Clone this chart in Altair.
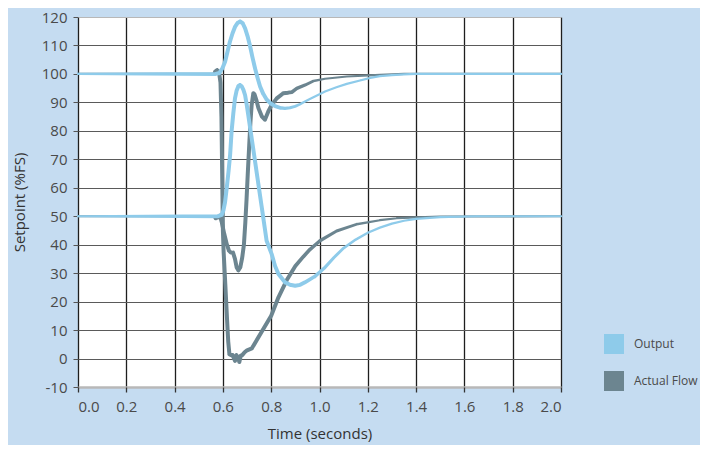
import altair as alt
import pandas as pd

# ---- data ----
# Output trace around the 100 %FS level
out_hi_t = [0.00, 0.57, 0.585, 0.598, 0.609, 0.619, 0.629, 0.640, 0.650, 0.661, 0.671, 0.682, 0.692, 0.702,
            0.712, 0.722, 0.733, 0.744, 0.754, 0.767, 0.781, 0.798, 0.816, 0.836, 0.857, 0.878, 0.899, 0.920,
            0.940, 0.960, 0.981, 1.023, 1.070, 1.113, 1.168, 1.210, 1.250, 1.300, 1.350, 1.400, 2.000]
out_hi_v = [100, 100, 100.3, 102.0, 104.3, 107.8, 111.3, 114.3, 116.5, 117.9, 118.4, 117.8, 116.0, 113.3,
            110.0, 106.0, 102.0, 98.5, 95.6, 93.0, 91.0, 89.6, 88.7, 88.1, 87.9, 88.1, 88.6, 89.4,
            90.3, 91.2, 92.1, 93.8, 95.3, 96.5, 97.7, 98.6, 99.2, 99.6, 99.85, 100, 100]

# Actual Flow trace settling at 100 %FS
flow_hi_t = [0.00, 0.56, 0.570, 0.580, 0.588, 0.595, 0.605, 0.615, 0.625, 0.632, 0.642, 0.650, 0.657, 0.664,
             0.672, 0.680, 0.687, 0.693, 0.698, 0.703, 0.709, 0.714, 0.719, 0.726, 0.731, 0.738, 0.747,
             0.761, 0.774, 0.788, 0.802, 0.823, 0.850, 0.870, 0.885, 0.906, 0.940, 0.975, 1.023, 1.113,
             1.250, 1.350, 2.000]
flow_hi_v = [50, 50, 49.3, 49.6, 50.2, 48.0, 44.0, 40.5, 37.9, 37.3, 37.2, 35.0, 32.0, 31.0,
             32.0, 35.5, 40.0, 48.0, 56.0, 65.0, 75.0, 83.0, 89.0, 93.2, 92.8, 91.0, 88.0,
             85.1, 83.9, 86.8, 89.1, 91.4, 93.2, 93.4, 93.6, 94.9, 96.1, 97.5, 98.3, 99.1,
             99.7, 100, 100]

# Output trace around the 50 %FS level
out_lo_t = [0.00, 0.58, 0.595, 0.602, 0.609, 0.616, 0.623, 0.630, 0.636, 0.643, 0.650, 0.657, 0.664, 0.671,
            0.678, 0.685, 0.692, 0.698, 0.705, 0.715, 0.729, 0.745, 0.760, 0.781, 0.802, 0.816, 0.830,
            0.857, 0.878, 0.899, 0.920, 0.940, 0.980, 1.020, 1.060, 1.100, 1.150, 1.200, 1.250, 1.300,
            1.350, 1.400, 1.500, 1.650, 2.000]
out_lo_v = [50, 50, 50.5, 52.0, 55.0, 60.0, 65.5, 71.7, 79.8, 86.0, 91.4, 94.2, 95.7, 96.1,
            95.6, 94.4, 92.5, 89.5, 85.6, 79.8, 71.7, 62.4, 53.7, 41.4, 36.7, 32.5, 29.7,
            26.8, 25.9, 25.6, 25.9, 26.8, 28.8, 31.8, 35.5, 38.8, 41.8, 44.2, 46.0, 47.4,
            48.4, 49.1, 49.7, 50, 50]

# Actual Flow trace settling at 50 %FS
flow_lo_t = [0.00, 0.56, 0.568, 0.576, 0.584, 0.590, 0.594, 0.597, 0.600, 0.603, 0.610, 0.617, 0.622,
             0.627, 0.633, 0.640, 0.645, 0.650, 0.656, 0.662, 0.668, 0.674, 0.680, 0.690, 0.700, 0.720,
             0.760, 0.800, 0.830, 0.864, 0.900, 0.933, 0.960, 1.002, 1.071, 1.154, 1.250, 1.320, 1.405,
             1.500, 2.000]
flow_lo_v = [100, 100, 100.8, 101.3, 100.6, 97.0, 85.0, 65.0, 45.0, 37.5, 26.0, 14.0, 6.0,
             1.5, 1.2, 1.2, 0.2, -0.8, 1.2, 0.5, -1.2, 1.0, 1.2, 2.2, 2.9, 3.6,
             9.3, 15.0, 21.5, 27.5, 32.5, 35.8, 38.3, 41.4, 44.8, 47.2, 48.6, 49.3, 49.6,
             49.9, 50]

series_names = ["Output", "Actual Flow"]
x_ticks = [0.0, 0.2, 0.4, 0.6, 0.8, 1.0, 1.2, 1.4, 1.6, 1.8, 2.0]
y_ticks = [-10, 0, 10, 20, 30, 40, 50, 60, 70, 80, 90, 100, 110, 120]

# ---- styling ----
BLUE = "#8ecbea"
GRAY = "#6c8590"
BG = "#c5dcf1"
FONT = "Open Sans"
TEXT = "#4a4a4a"

curves = [
    ("out_hi", "Output", out_hi_t, out_hi_v),
    ("flow_hi", "Actual Flow", flow_hi_t, flow_hi_v),
    ("out_lo", "Output", out_lo_t, out_lo_v),
    ("flow_lo", "Actual Flow", flow_lo_t, flow_lo_v),
]
rows = []
for cid, series, ts, vs in curves:
    for t, v in zip(ts, vs):
        rows.append({"t": t, "v": v, "series": series, "curve": cid})
df = pd.DataFrame(rows)

# stroke width: thick during the transient, thinning out as each trace settles
thick_end = {"out_hi": 0.80, "flow_hi": 0.86, "out_lo": 0.90, "flow_lo": 0.88}
ramp = {"out_hi": 0.15, "flow_hi": 0.15, "out_lo": 0.30, "flow_lo": 0.35}
t1 = " : ".join(f"datum.curve == '{k}' ? {v}" for k, v in thick_end.items()) + " : 1"
rr = " : ".join(f"datum.curve == '{k}' ? {v}" for k, v in ramp.items()) + " : 1"
width_expr = (f"datum.t < 0.565 ? 2.2 : (datum.t <= ({t1}) ? 4 : "
              f"max(2.2, 4 - 1.8 * (datum.t - ({t1})) / ({rr})))")

color_scale = alt.Scale(domain=series_names, range=[BLUE, GRAY])

x_enc = alt.X(
    "t:Q",
    scale=alt.Scale(domain=[0, 2], nice=False, zero=False),
    axis=alt.Axis(
        values=x_ticks, format=".1f", title="Time (seconds)",
        grid=True, gridColor="#1e1e1e", gridWidth=1.3,
        domain=False, ticks=True, tickColor="#333333", tickSize=5, tickWidth=1.3,
        labelFont=FONT, labelFontSize=15, labelColor=TEXT, labelPadding=7,
        titleFont=FONT, titleFontSize=15, titleFontWeight="normal", titleColor="#333333",
        titlePadding=12,
    ),
)
y_enc = alt.Y(
    "v:Q",
    scale=alt.Scale(domain=[-10, 120], nice=False, zero=False),
    axis=alt.Axis(
        values=y_ticks, labelExpr="'' + datum.value", title="Setpoint (%FS)",
        grid=True,
        gridColor={"condition": {"test": "datum.value == -10 || datum.value == 120", "value": "#b8b8b8"},
                   "value": "#5a5a5a"},
        gridWidth={"condition": {"test": "datum.value == -10", "value": 2.5}, "value": 1},
        domain=False, ticks=True, tickColor="#555555", tickSize=5,
        labelFont=FONT, labelFontSize=15, labelColor=TEXT, labelPadding=6,
        titleFont=FONT, titleFontSize=15, titleFontWeight="normal", titleColor="#333333",
        titlePadding=14,
    ),
)

legend = alt.Legend(
    title=None, orient="none", legendX=526, legendY=317,
    symbolType="square", symbolSize=324, symbolOpacity=1,
    symbolStrokeColor="white", symbolStrokeWidth=2,
    labelFont=FONT, labelFontSize=12, labelColor=TEXT,
    labelOffset=10, rowPadding=11, padding=0,
)

# legend-only layer (draws no marks; first so its legend settings win the merge)
legend_layer = alt.Chart(df).transform_filter("false").mark_square(
    filled=True, opacity=1, stroke="white", strokeWidth=2
).encode(
    x=x_enc, y=y_enc,
    color=alt.Color("series:N", scale=color_scale, legend=legend),
)

base = alt.Chart(df).transform_calculate(w=width_expr)

flow_layer = base.transform_filter("datum.series == 'Actual Flow'").mark_trail().encode(
    x=x_enc, y=y_enc,
    color=alt.Color("series:N", scale=color_scale, legend=None),
    size=alt.Size("w:Q", scale=None, legend=None),
    detail="curve:N",
)
out_layer = base.transform_filter("datum.series == 'Output'").mark_trail().encode(
    x=x_enc, y=y_enc,
    color=alt.Color("series:N", scale=color_scale, legend=None),
    size=alt.Size("w:Q", scale=None, legend=None),
    detail="curve:N",
)

chart = alt.layer(legend_layer, flow_layer, out_layer).properties(
    width=483, height=370,
    autosize=alt.AutoSizeParams(type="none"),
    padding={"left": 70, "top": 9, "right": 139, "bottom": 58},
    background=BG,
).configure_view(stroke=None, fill="white")

chart.save("out.html", embed_options={"renderer": "svg", "actions": False})
